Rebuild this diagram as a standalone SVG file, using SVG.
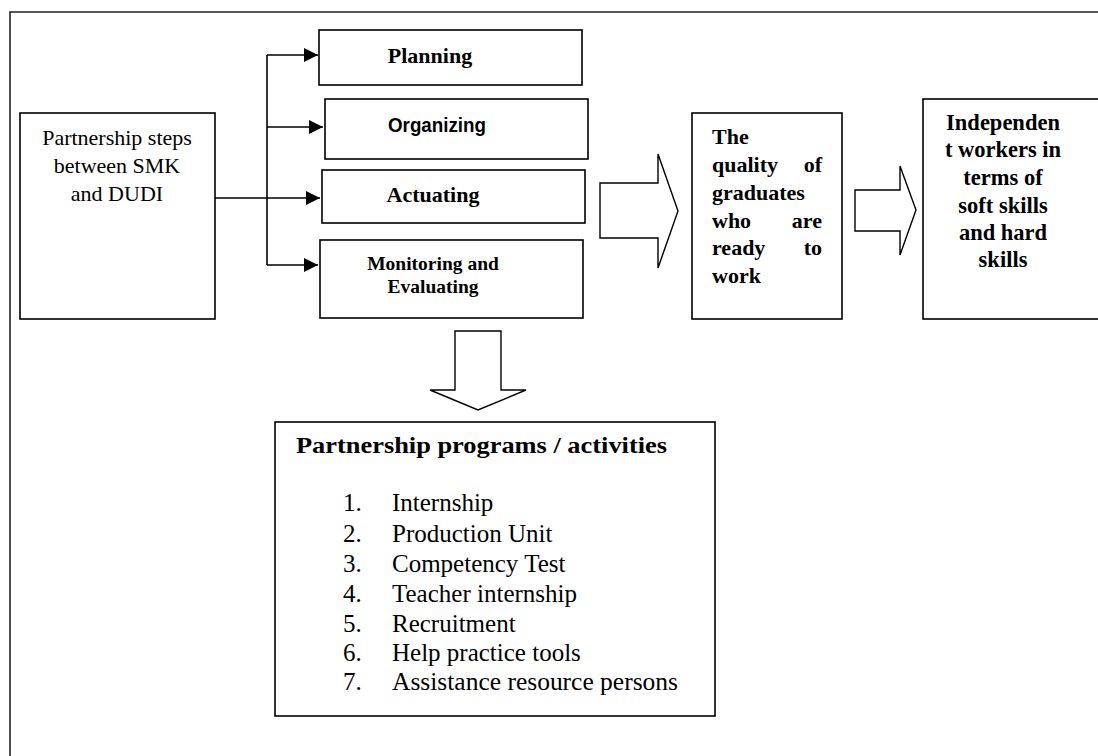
<svg xmlns="http://www.w3.org/2000/svg" width="1098" height="756" viewBox="0 0 1098 756">
<style>
.box{fill:#fff;stroke:#000;stroke-width:1.6}
.frame{fill:none;stroke:#222;stroke-width:1.6}
.ln{fill:none;stroke:#000;stroke-width:1.6}
.bigarrow{fill:#fff;stroke:#000;stroke-width:1.4;stroke-linejoin:miter}
.serif{font-family:"Liberation Serif","Times New Roman",serif;fill:#000}
.b{font-weight:bold}
.sans{font-family:"Liberation Sans",Arial,sans-serif;font-weight:bold;fill:#000}
</style>
<defs>
<marker id="ah" markerWidth="15" markerHeight="15" refX="14" refY="7" orient="auto" markerUnits="userSpaceOnUse">
<path d="M0,0 L14,7 L0,14 Z" fill="#000"/>
</marker>
</defs>
<rect width="1098" height="756" fill="#fff"/>
<path class="frame" d="M10,760 L10,12 L1102,12"/>

<g id="connectors">
<path class="ln" d="M267,55 L267,265"/>
<path class="ln" d="M267,55 L318,55" marker-end="url(#ah)"/>
<path class="ln" d="M267,127 L323,127" marker-end="url(#ah)"/>
<path class="ln" d="M215,198 L320,198" marker-end="url(#ah)"/>
<path class="ln" d="M267,265 L318,265" marker-end="url(#ah)"/>
<polygon class="bigarrow" points="600,183 658,183 658,154 678,211 658,268 658,238 600,238"/>
<polygon class="bigarrow" points="855,190 900,190 900,166 916,210 900,255 900,231 855,231"/>
<polygon class="bigarrow" points="455,331 501,331 501,390 526,390 478,410 430,390 455,390"/>
</g>

<g id="node-steps">
<rect class="box" x="20" y="113" width="195" height="206"/>
<text class="serif" font-size="22" text-anchor="middle"><tspan x="117" y="145">Partnership steps</tspan><tspan x="117" y="173">between SMK</tspan><tspan x="117" y="201">and DUDI</tspan></text>
</g>

<g id="node-planning">
<rect class="box" x="319" y="30" width="263" height="55"/>
<text class="serif b" font-size="22" x="430" y="63" text-anchor="middle">Planning</text>
</g>

<g id="node-organizing">
<rect class="box" x="325" y="99" width="263" height="60"/>
<text class="sans" font-size="20" x="437" y="132" text-anchor="middle" textLength="98" lengthAdjust="spacingAndGlyphs">Organizing</text>
</g>

<g id="node-actuating">
<rect class="box" x="322" y="170" width="263" height="53"/>
<text class="serif b" font-size="22" x="433" y="202" text-anchor="middle">Actuating</text>
</g>

<g id="node-monitoring">
<rect class="box" x="320" y="240" width="263" height="78"/>
<text class="serif b" font-size="19.5" text-anchor="middle"><tspan x="433" y="270">Monitoring and</tspan><tspan x="433" y="293">Evaluating</tspan></text>
</g>

<g id="node-quality">
<rect class="box" x="692" y="113" width="150" height="206"/>
<g class="serif b" font-size="22">
<text x="712" y="144">The</text>
<text x="712" y="172">quality</text><text x="822" y="172" text-anchor="end">of</text>
<text x="712" y="200">graduates</text>
<text x="712" y="228">who</text><text x="822" y="228" text-anchor="end">are</text>
<text x="712" y="255">ready</text><text x="822" y="255" text-anchor="end">to</text>
<text x="712" y="283">work</text>
</g>
</g>

<g id="node-independent">
<rect class="box" x="923" y="99" width="200" height="220"/>
<text class="serif b" font-size="22.5" text-anchor="middle"><tspan x="1003" y="130">Independen</tspan><tspan x="1003" y="157">t workers in</tspan><tspan x="1003" y="185">terms of</tspan><tspan x="1003" y="213">soft skills</tspan><tspan x="1003" y="240">and hard</tspan><tspan x="1003" y="267">skills</tspan></text>
</g>

<g id="node-programs">
<rect class="box" x="275" y="422" width="440" height="294"/>
<text class="serif b" font-size="24" x="296" y="453" textLength="371" lengthAdjust="spacingAndGlyphs">Partnership programs / activities</text>
<g class="serif" font-size="25">
<text x="343" y="511">1.</text><text x="392" y="511">Internship</text>
<text x="343" y="542">2.</text><text x="392" y="542">Production Unit</text>
<text x="343" y="572">3.</text><text x="392" y="572">Competency Test</text>
<text x="343" y="602">4.</text><text x="392" y="602">Teacher internship</text>
<text x="343" y="632">5.</text><text x="392" y="632">Recruitment</text>
<text x="343" y="661">6.</text><text x="392" y="661">Help practice tools</text>
<text x="343" y="690">7.</text><text x="392" y="690" textLength="286" lengthAdjust="spacingAndGlyphs">Assistance resource persons</text>
</g>
</g>
</svg>
